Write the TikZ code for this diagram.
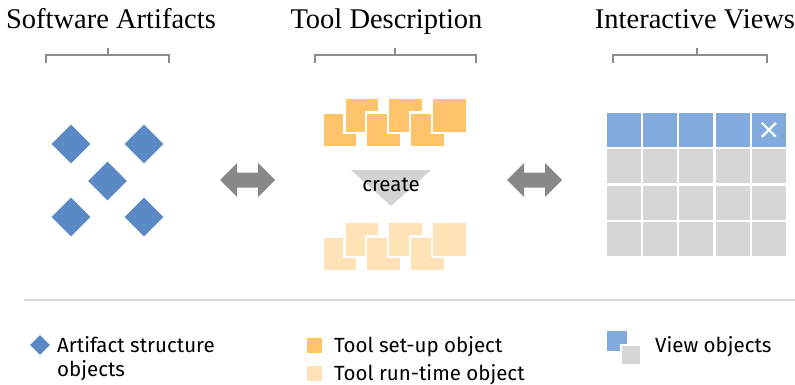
\documentclass[tikz,border=0pt]{standalone}
\usepackage{fontspec}
\setmainfont{Liberation Serif}
\newfontfamily\labelfont{Fira Sans}
\usetikzlibrary{shapes.geometric}

\definecolor{artblue}{RGB}{91,137,197}
\definecolor{setuporange}{RGB}{255,196,106}
\definecolor{runorange}{RGB}{255,227,183}
\definecolor{viewblue}{RGB}{131,170,220}
\definecolor{viewgray}{RGB}{214,214,214}
\definecolor{arrowgray}{RGB}{136,136,136}
\definecolor{trigray}{RGB}{211,211,211}
\definecolor{bracketgray}{RGB}{140,140,140}
\definecolor{rulegray}{RGB}{217,217,217}

\tikzset{
  heading/.style={font=\fontsize{28.5}{32}\selectfont, anchor=base, inner sep=0pt},
  legendtext/.style={font=\labelfont\fontsize{20.5}{24}\selectfont, anchor=base west, inner sep=0pt, align=left},
  bracket/.style={draw=bracketgray, line width=2pt},
  artifact/.style={diamond, fill=artblue, inner sep=0pt, minimum width=#1, minimum height=#1},
  setupsq/.style={fill=setuporange, draw=white, line width=2.4pt},
  runsq/.style={fill=runorange, draw=white, line width=2.4pt},
  cell/.style={minimum width=34pt, minimum height=34pt, inner sep=0pt},
  relarrow/.style={fill=arrowgray},
}

% square of side 35 centred at a point
\newcommand{\tilesq}[3]{\path[#1] (#2-17.5,#3-17.5) rectangle (#2+17.5,#3+17.5);}
% gray double arrow centred at (x,y)
\newcommand{\relarrowat}[2]{%
  \fill[relarrow] (#1-27.5,#2) -- (#1-10.5,#2-17) -- (#1-10.5,#2-7.5) -- (#1+10.5,#2-7.5)
    -- (#1+10.5,#2-17) -- (#1+27.5,#2) -- (#1+10.5,#2+17) -- (#1+10.5,#2+7.5)
    -- (#1-10.5,#2+7.5) -- (#1-10.5,#2+17) -- cycle;}

\begin{document}
\begin{tikzpicture}[x=1pt, y=-1pt]
\useasboundingbox (0,0) rectangle (795,385);

% column headings
\node[heading] (h1) at (111,29) {Software Artifacts};
\node[heading] (h2) at (386.5,29) {Tool Description};
\node[heading] (h3) at (695,29) {Interactive Views};

% brackets under the headings
\foreach \l/\m/\r in {46/108/169, 315/395/476, 613/697/767}{
  \draw[bracket] (\l,63) -- (\l,55) -- (\r,55) -- (\r,63);
  \draw[bracket] (\m,55) -- (\m,48);
}

% artifact structure objects
\node[artifact=39pt] (a1) at (71,144) {};
\node[artifact=39pt] (a2) at (144,144) {};
\node[artifact=39pt] (a3) at (107.5,181) {};
\node[artifact=39pt] (a4) at (71,217) {};
\node[artifact=39pt] (a5) at (144,217) {};

% relation arrows
\relarrowat{247.5}{180}
\relarrowat{534.5}{180}

% tool set-up objects
\foreach \k in {0,1,2}{
  \tilesq{setupsq}{340+43.75*\k}{130}
  \tilesq{setupsq}{362+43.75*\k}{115.5}
}
% create step
\fill[trigray] (351,170) -- (431,170) -- (391,206) -- cycle;
\node[font=\labelfont\fontsize{20.5}{24}\selectfont, inner sep=0pt, anchor=base] (create) at (391,191) {create};
% tool run-time objects
\foreach \k in {0,1,2}{
  \tilesq{runsq}{340+43.75*\k}{254}
  \tilesq{runsq}{362+43.75*\k}{239.5}
}

% interactive view grid
\foreach \j in {0,...,4}{
  \node[cell, fill=viewblue] (v0\j) at (623.7+36.3*\j,129.8) {};
  \foreach \i in {1,2,3}{
    \node[cell, fill=viewgray] (v\i\j) at (623.7+36.3*\j,129.8+36.4*\i) {};
  }
}
\draw[white, line width=2.2pt] ([shift={(-7,-7)}]v04.center) -- ([shift={(7,7)}]v04.center)
  ([shift={(-7,7)}]v04.center) -- ([shift={(7,-7)}]v04.center);

% separator
\draw[rulegray, line width=2.5pt] (24,300) -- (795,300);

% legend
\node[artifact=20pt] (la) at (40,345) {};
\node[legendtext] (lat) at (57,376) {Artifact structure\\objects};
\fill[setuporange] (306.5,338) rectangle (322,352.5);
\node[legendtext] (lst) at (334,352) {Tool set-up object};
\fill[runorange] (306.5,366) rectangle (322,380.5);
\node[legendtext] (lrt) at (334,380) {Tool run-time object};
\fill[viewblue] (607,331) rectangle (627,351);
\filldraw[fill=viewgray, draw=white, line width=2pt] (621,345) rectangle (641,365);
\node[legendtext] (lv) at (655,352) {View objects};
\end{tikzpicture}
\end{document}
